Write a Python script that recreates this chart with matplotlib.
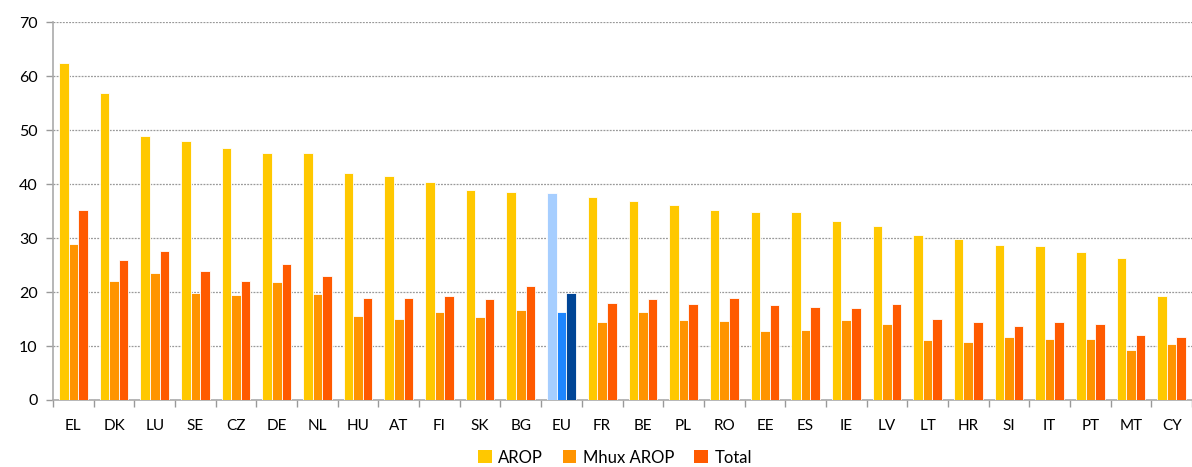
import numpy as np
import matplotlib.pyplot as plt

plt.rcParams['font.family'] = ['Lato', 'DejaVu Sans']

countries = ["EL", "DK", "LU", "SE", "CZ", "DE", "NL", "HU", "AT", "FI", "SK", "BG", "EU",
             "FR", "BE", "PL", "RO", "EE", "ES", "IE", "LV", "LT", "HR", "SI", "IT", "PT", "MT", "CY"]
arop = [62.4, 57.0, 49.0, 48.1, 46.7, 45.8, 45.7, 42.1, 41.6, 40.5, 39.0, 38.6, 38.3,
        37.6, 36.8, 36.1, 35.3, 34.9, 34.8, 33.2, 32.2, 30.5, 29.9, 28.7, 28.5, 27.5, 26.3, 19.3]
mhux_arop = [29.0, 22.0, 23.6, 19.8, 19.5, 21.8, 19.7, 15.5, 15.0, 16.4, 15.3, 16.7, 16.3,
             14.5, 16.3, 14.9, 14.7, 12.7, 12.9, 14.9, 14.0, 11.2, 10.7, 11.6, 11.3, 11.3, 9.2, 10.4]
total = [35.2, 26.0, 27.6, 23.9, 22.1, 25.2, 22.9, 19.0, 19.0, 19.3, 18.7, 21.2, 19.9,
         18.0, 18.8, 17.8, 19.0, 17.7, 17.2, 17.1, 17.8, 15.1, 14.4, 13.8, 14.5, 14.0, 12.0, 11.6]
series_names = ["AROP", "Mhux AROP", "Total"]

colors = ["#FFC800", "#FF9400", "#FF5A00"]
eu_colors = ["#A6CEFF", "#1E86FF", "#004596"]

fig = plt.figure(figsize=(11.92, 4.67), dpi=100)
ax = fig.add_axes([0.0445, 0.1435, 0.9555, 0.8085])

x = np.arange(len(countries))
w = 0.235
for i, (vals, name) in enumerate(zip([arop, mhux_arop, total], series_names)):
    cols = [eu_colors[i] if c == "EU" else colors[i] for c in countries]
    ax.bar(x + (i - 1) * w, vals, width=w, color=cols, edgecolor="#FFFFFF",
           linewidth=0.6, label=name, zorder=3)

ax.set_xlim(-0.5, len(countries) - 0.5)
ax.set_ylim(0, 70)
ax.set_yticks(range(0, 71, 10))
ax.yaxis.grid(True, color="#999999", linestyle=(0, (1.5, 1)), linewidth=0.9, zorder=0)

ax.set_xticks(x)
ax.set_xticklabels(countries, fontsize=11)
ax.set_xticks(np.arange(-0.5, len(countries), 1), minor=True)
ax.tick_params(axis="x", which="major", length=0, pad=14)
ax.tick_params(axis="x", which="minor", length=5, color="#999999", width=1)
ax.tick_params(axis="y", length=5, color="#999999", width=1, labelsize=11.5, pad=6)

for s in ["top", "right"]:
    ax.spines[s].set_visible(False)
for s in ["left", "bottom"]:
    ax.spines[s].set_color("#AAAAAA")
    ax.spines[s].set_linewidth(1.2)

handles, labels = ax.get_legend_handles_labels()
leg = fig.legend(handles, labels, loc="center", bbox_to_anchor=(0.516, 0.02), ncol=3,
                 frameon=False, fontsize=12, handlelength=0.8, handleheight=0.8,
                 columnspacing=1.2, handletextpad=0.4)
for h, c in zip(leg.legend_handles, colors):
    h.set_color(c)
    h.set_edgecolor("none")

fig.savefig("out.png", dpi=100)
